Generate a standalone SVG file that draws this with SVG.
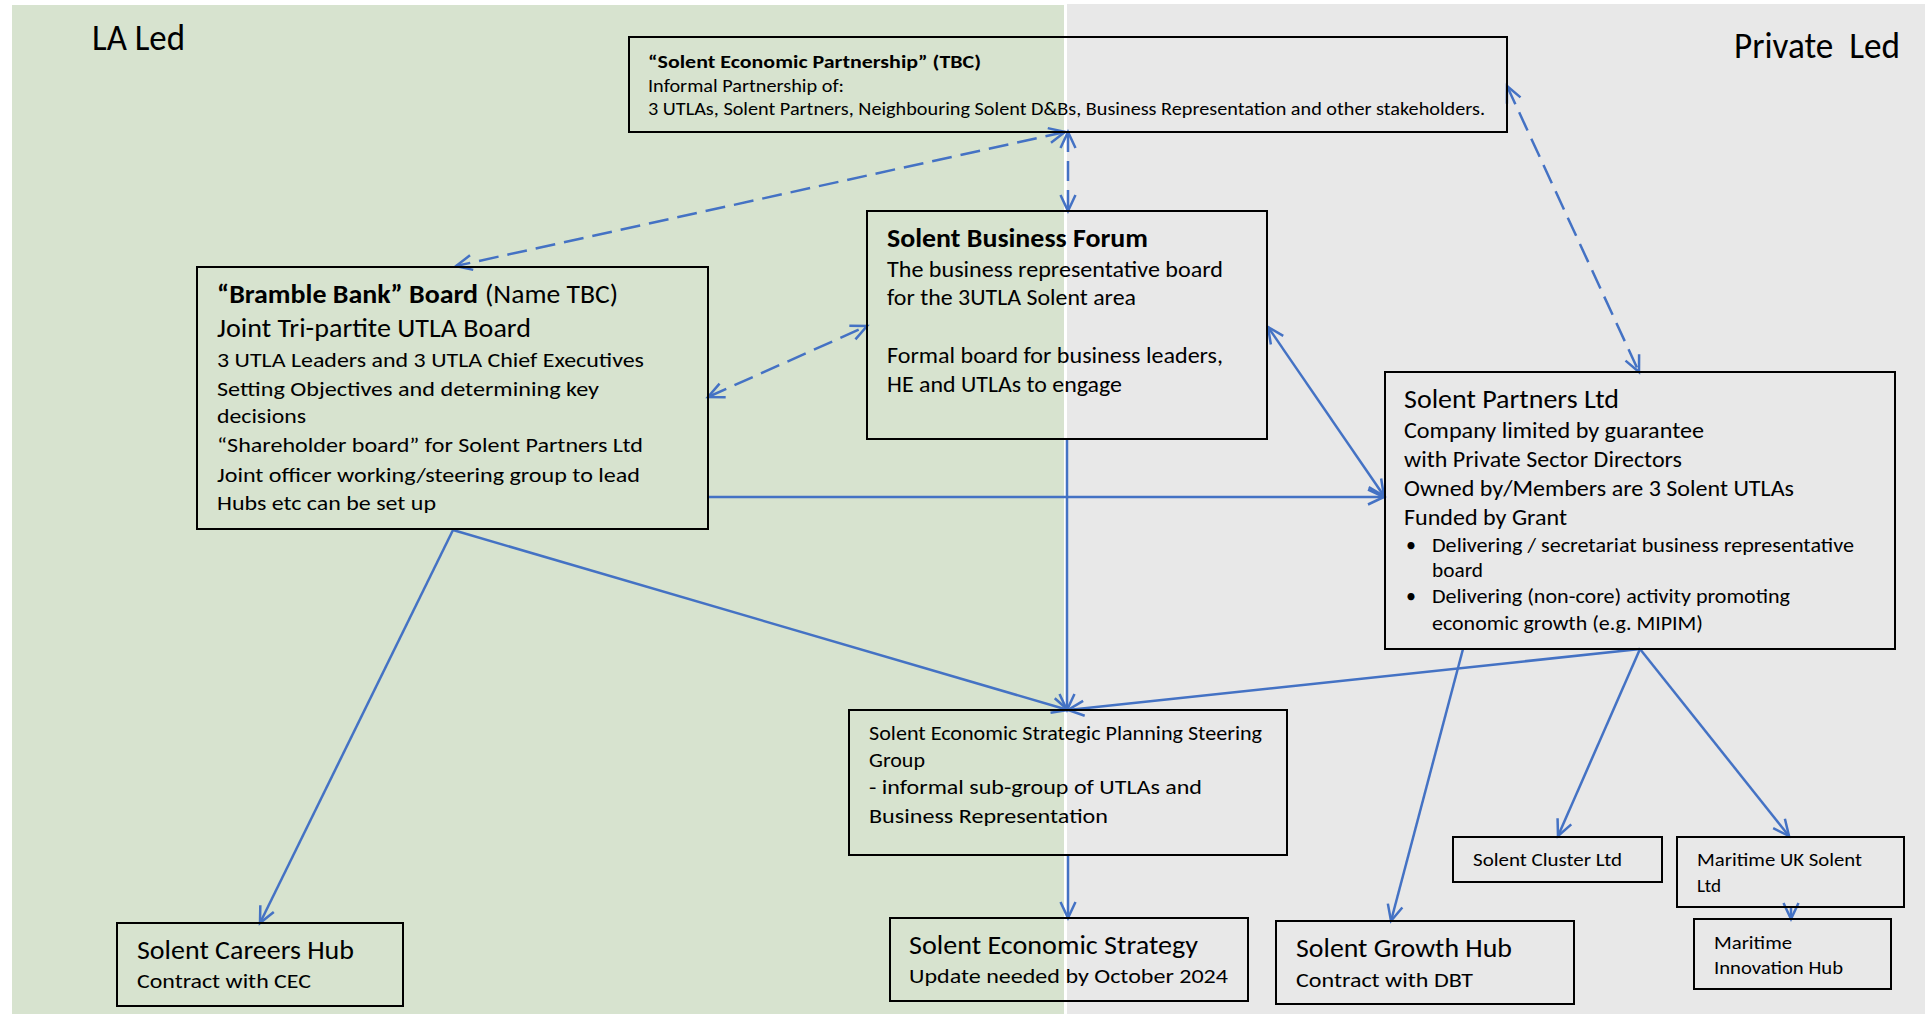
<svg xmlns="http://www.w3.org/2000/svg" width="1932" height="1014" viewBox="0 0 1932 1014">
<style>
text{font-family:Carlito,Lato,"Liberation Sans",sans-serif;fill:#000}
.b{font-weight:bold}
.box{fill:none;stroke:#000;stroke-width:2}
.c{fill:none;stroke:#4472C4;stroke-width:2.5}
.d{stroke-dasharray:20 9}
.s37{font-size:37px}.s27{font-size:26.7px}.s23{font-size:22.7px}.s21{font-size:21.3px}.s20{font-size:20px}.s19{font-size:19px}
</style>
<defs>
<marker id="ah" markerUnits="userSpaceOnUse" markerWidth="24" markerHeight="20" viewBox="-2 -10 24 20" refX="16" refY="0" orient="auto-start-reverse" overflow="visible">
<path d="M0,-7.5 L16,0 L0,7.5" fill="none" stroke="#4472C4" stroke-width="2.5" stroke-dasharray="none"/>
</marker>
</defs>
<g id="background">
<rect x="12" y="5" width="1052" height="1009" fill="#D7E3CF"/>
<rect x="1067" y="4" width="858" height="1010" fill="#E8E8E8"/>
<text class="s37" x="92" y="50" textLength="93" lengthAdjust="spacingAndGlyphs">LA Led</text>
<text class="s37" x="1734" y="58" textLength="166" lengthAdjust="spacingAndGlyphs" xml:space="preserve">Private  Led</text>
</g>
<g id="connectors">
<path class="c d" d="M1065,132 L456,266" marker-start="url(#ah)" marker-end="url(#ah)"/>
<path class="c d" d="M1068,132 L1068,211" marker-start="url(#ah)" marker-end="url(#ah)"/>
<path class="c d" d="M1507,86 L1639,372" marker-start="url(#ah)" marker-end="url(#ah)"/>
<path class="c d" d="M708,397 L867,326" marker-start="url(#ah)" marker-end="url(#ah)"/>
<path class="c" d="M708,497 L1384,497" marker-end="url(#ah)"/>
<path class="c" d="M1268,327 L1384,496" marker-start="url(#ah)" marker-end="url(#ah)"/>
<path class="c" d="M453,530 L260,923" marker-end="url(#ah)"/>
<path class="c" d="M453,530 L1068,710" marker-end="url(#ah)"/>
<path class="c" d="M1067,439 L1067,710" marker-end="url(#ah)"/>
<path class="c" d="M1640,649 L1068,710" marker-end="url(#ah)"/>
<path class="c" d="M1068,855 L1068,918" marker-end="url(#ah)"/>
<path class="c" d="M1463,649 L1391,921" marker-end="url(#ah)"/>
<path class="c" d="M1640,649 L1558,836" marker-end="url(#ah)"/>
<path class="c" d="M1640,649 L1789,836" marker-end="url(#ah)"/>
<path class="c" d="M1791,907 L1791,919" marker-end="url(#ah)"/>
</g>
<g id="sep">
<rect class="box" x="629" y="37" width="878" height="95"/>
<text class="s19 b" x="648" y="68" textLength="333" lengthAdjust="spacingAndGlyphs">“Solent Economic Partnership” (TBC)</text>
<text class="s19" x="648" y="92" textLength="196" lengthAdjust="spacingAndGlyphs">Informal Partnership of:</text>
<text class="s19" x="648" y="115" textLength="837" lengthAdjust="spacingAndGlyphs">3 UTLAs, Solent Partners, Neighbouring Solent D&amp;Bs, Business Representation and other stakeholders.</text>
</g>
<g id="bramble">
<rect class="box" x="197" y="267" width="511" height="262"/>
<text class="s27 b" x="217" y="303" textLength="261" lengthAdjust="spacingAndGlyphs">“Bramble Bank” Board</text>
<text class="s27" x="485" y="303" textLength="133" lengthAdjust="spacingAndGlyphs">(Name TBC)</text>
<text class="s27" x="217" y="337" textLength="314" lengthAdjust="spacingAndGlyphs">Joint Tri-partite UTLA Board</text>
<text class="s21" x="217" y="367" textLength="427" lengthAdjust="spacingAndGlyphs">3 UTLA Leaders and 3 UTLA Chief Executives</text>
<text class="s21" x="217" y="396" textLength="382" lengthAdjust="spacingAndGlyphs">Setting Objectives and determining key</text>
<text class="s21" x="217" y="423" textLength="89" lengthAdjust="spacingAndGlyphs">decisions</text>
<text class="s21" x="217" y="452" textLength="426" lengthAdjust="spacingAndGlyphs">“Shareholder board” for Solent Partners Ltd</text>
<text class="s21" x="217" y="482" textLength="423" lengthAdjust="spacingAndGlyphs">Joint officer working/steering group to lead</text>
<text class="s21" x="217" y="510" textLength="219" lengthAdjust="spacingAndGlyphs">Hubs etc can be set up</text>
</g>
<g id="sbf">
<rect class="box" x="867" y="211" width="400" height="228"/>
<text class="s27 b" x="887" y="247" textLength="261" lengthAdjust="spacingAndGlyphs">Solent Business Forum</text>
<text class="s23" x="887" y="277" textLength="336" lengthAdjust="spacingAndGlyphs">The business representative board</text>
<text class="s23" x="887" y="305" textLength="249" lengthAdjust="spacingAndGlyphs">for the 3UTLA Solent area</text>
<text class="s23" x="887" y="363" textLength="336" lengthAdjust="spacingAndGlyphs">Formal board for business leaders,</text>
<text class="s23" x="887" y="392" textLength="235" lengthAdjust="spacingAndGlyphs">HE and UTLAs to engage</text>
</g>
<g id="spl">
<rect class="box" x="1385" y="372" width="510" height="277"/>
<text class="s27" x="1404" y="408" textLength="215" lengthAdjust="spacingAndGlyphs">Solent Partners Ltd</text>
<text class="s23" x="1404" y="438" textLength="300" lengthAdjust="spacingAndGlyphs">Company limited by guarantee</text>
<text class="s23" x="1404" y="467" textLength="278" lengthAdjust="spacingAndGlyphs">with Private Sector Directors</text>
<text class="s23" x="1404" y="496" textLength="390" lengthAdjust="spacingAndGlyphs">Owned by/Members are 3 Solent UTLAs</text>
<text class="s23" x="1404" y="525" textLength="163" lengthAdjust="spacingAndGlyphs">Funded by Grant</text>
<text class="s20" x="1406" y="552">•</text>
<text class="s20" x="1432" y="552" textLength="422" lengthAdjust="spacingAndGlyphs">Delivering / secretariat business representative</text>
<text class="s20" x="1432" y="577" textLength="51" lengthAdjust="spacingAndGlyphs">board</text>
<text class="s20" x="1406" y="603">•</text>
<text class="s20" x="1432" y="603" textLength="358" lengthAdjust="spacingAndGlyphs">Delivering (non-core) activity promoting</text>
<text class="s20" x="1432" y="630" textLength="271" lengthAdjust="spacingAndGlyphs">economic growth (e.g. MIPIM)</text>
</g>
<g id="sespsg">
<rect class="box" x="849" y="710" width="438" height="145"/>
<text class="s21" x="869" y="740" textLength="393" lengthAdjust="spacingAndGlyphs">Solent Economic Strategic Planning Steering</text>
<text class="s21" x="869" y="767" textLength="56" lengthAdjust="spacingAndGlyphs">Group</text>
<text class="s21" x="869" y="794" textLength="333" lengthAdjust="spacingAndGlyphs">- informal sub-group of UTLAs and</text>
<text class="s21" x="869" y="823" textLength="239" lengthAdjust="spacingAndGlyphs">Business Representation</text>
</g>
<g id="careers">
<rect class="box" x="117" y="923" width="286" height="83"/>
<text class="s27" x="137" y="959" textLength="217" lengthAdjust="spacingAndGlyphs">Solent Careers Hub</text>
<text class="s21" x="137" y="988" textLength="174" lengthAdjust="spacingAndGlyphs">Contract with CEC</text>
</g>
<g id="strategy">
<rect class="box" x="890" y="918" width="358" height="83"/>
<text class="s27" x="909" y="954" textLength="289" lengthAdjust="spacingAndGlyphs">Solent Economic Strategy</text>
<text class="s21" x="909" y="983" textLength="319" lengthAdjust="spacingAndGlyphs">Update needed by October 2024</text>
</g>
<g id="growth">
<rect class="box" x="1276" y="921" width="298" height="83"/>
<text class="s27" x="1296" y="957" textLength="216" lengthAdjust="spacingAndGlyphs">Solent Growth Hub</text>
<text class="s21" x="1296" y="987" textLength="177" lengthAdjust="spacingAndGlyphs">Contract with DBT</text>
</g>
<g id="cluster">
<rect class="box" x="1453" y="837" width="209" height="45"/>
<text class="s19" x="1473" y="866" textLength="149" lengthAdjust="spacingAndGlyphs">Solent Cluster Ltd</text>
</g>
<g id="maritimeuk">
<rect class="box" x="1677" y="837" width="227" height="70"/>
<text class="s19" x="1697" y="866" textLength="165" lengthAdjust="spacingAndGlyphs">Maritime UK Solent</text>
<text class="s19" x="1697" y="892" textLength="24" lengthAdjust="spacingAndGlyphs">Ltd</text>
</g>
<g id="innovation">
<rect class="box" x="1694" y="919" width="197" height="70"/>
<text class="s19" x="1714" y="949" textLength="78" lengthAdjust="spacingAndGlyphs">Maritime</text>
<text class="s19" x="1714" y="974" textLength="129" lengthAdjust="spacingAndGlyphs">Innovation Hub</text>
</g>
</svg>
